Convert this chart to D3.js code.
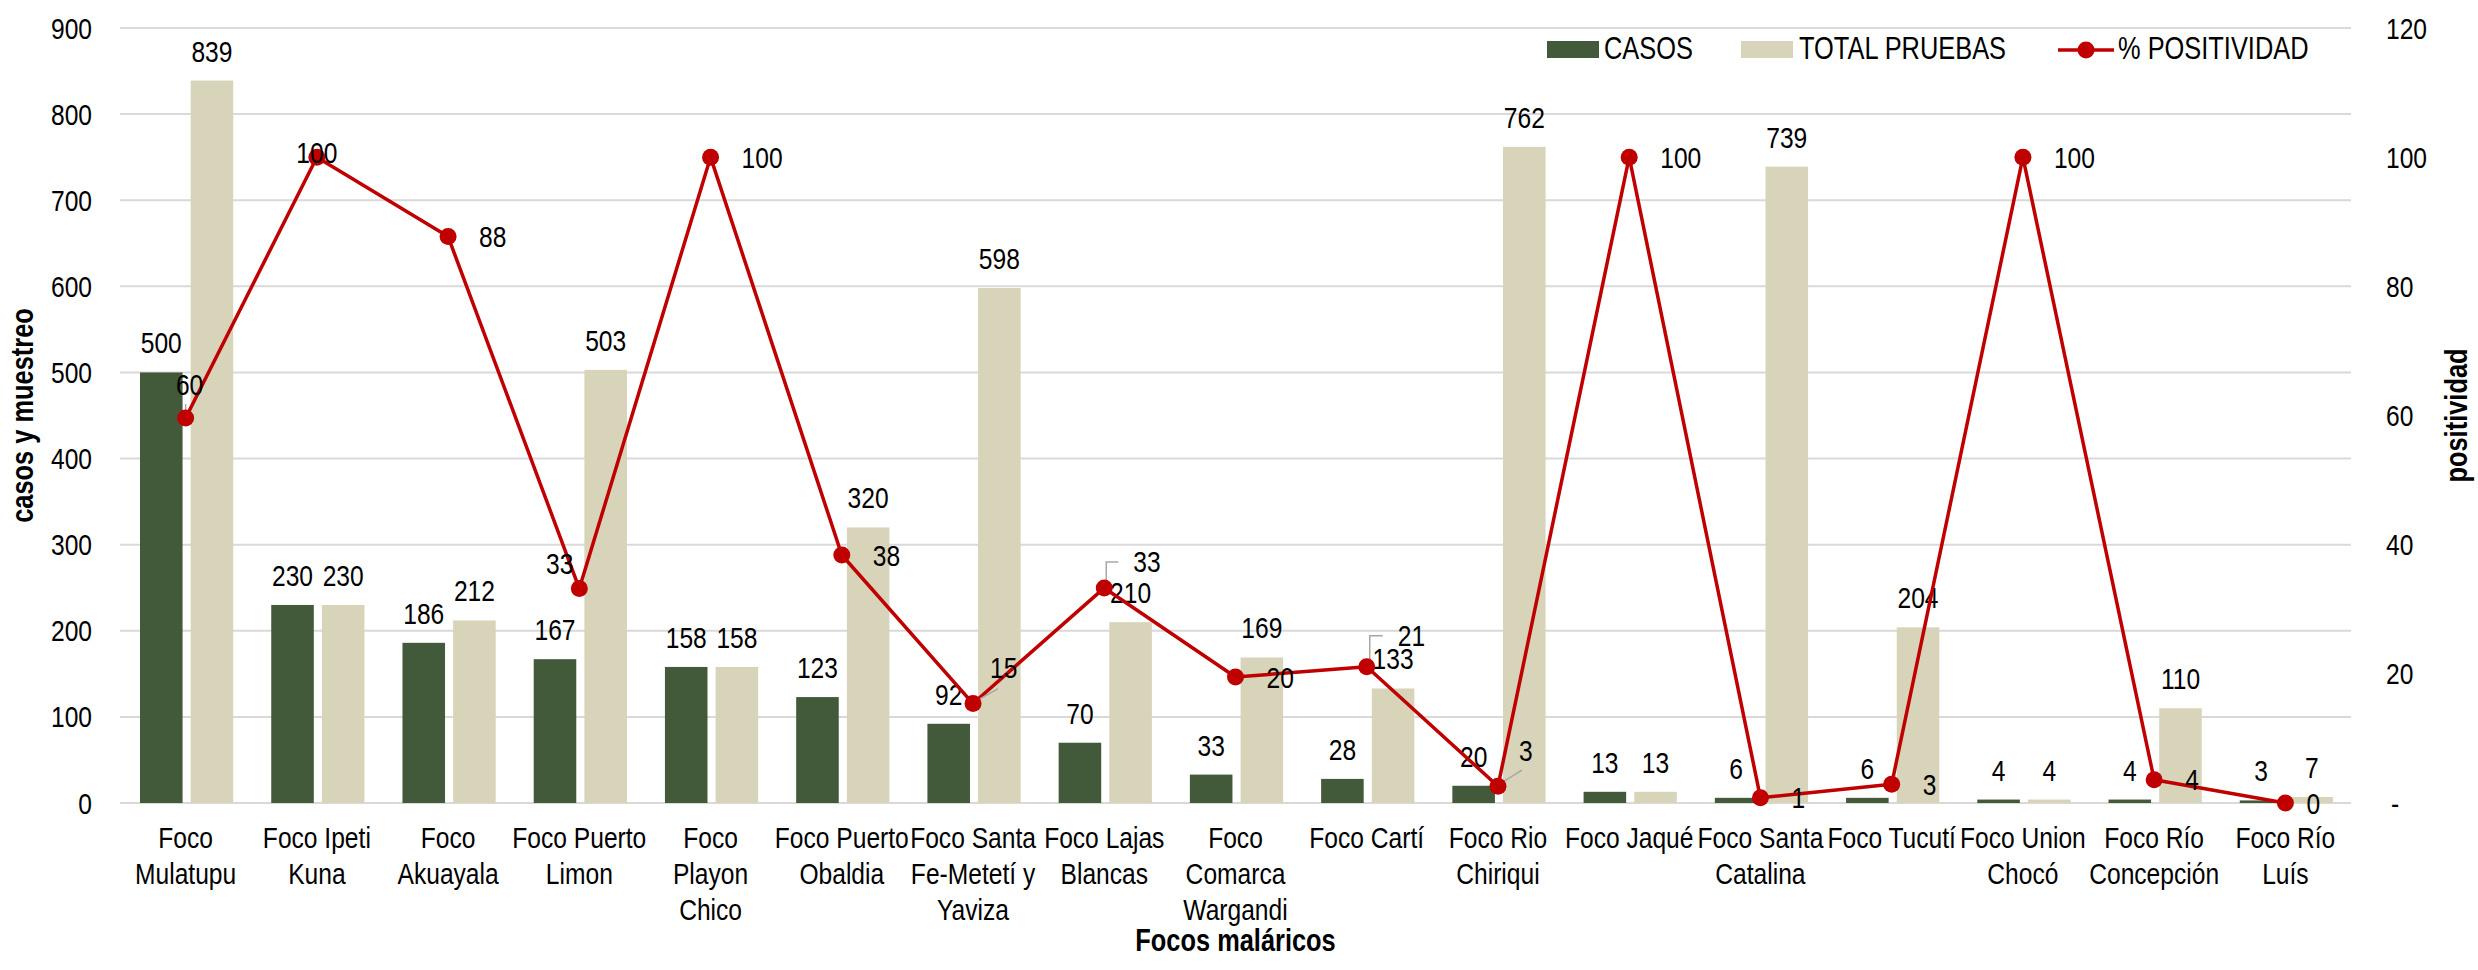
<!DOCTYPE html>
<html lang="es">
<head>
<meta charset="utf-8">
<title>Focos maláricos</title>
<script src="https://cdn.jsdelivr.net/npm/d3@7"></script>
<style>
  html, body { margin: 0; padding: 0; background: #fff; }
  svg { display: block; }
</style>
</head>
<body>
<script>
// data
var categories = ["Foco Mulatupu", "Foco Ipeti Kuna", "Foco Akuayala", "Foco Puerto Limon",
  "Foco Playon Chico", "Foco Puerto Obaldia", "Foco Santa Fe-Metetí y Yaviza", "Foco Lajas Blancas",
  "Foco Comarca Wargandi", "Foco Cartí", "Foco Rio Chiriqui", "Foco Jaqué", "Foco Santa Catalina",
  "Foco Tucutí", "Foco Union Chocó", "Foco Río Concepción", "Foco Río Luís"];

var tickLines = [["Foco", "Mulatupu"], ["Foco Ipeti", "Kuna"], ["Foco", "Akuayala"], ["Foco Puerto", "Limon"],
  ["Foco", "Playon", "Chico"], ["Foco Puerto", "Obaldia"], ["Foco Santa", "Fe-Metetí y", "Yaviza"],
  ["Foco Lajas", "Blancas"], ["Foco", "Comarca", "Wargandi"], ["Foco Cartí"], ["Foco Rio", "Chiriqui"],
  ["Foco Jaqué"], ["Foco Santa", "Catalina"], ["Foco Tucutí"], ["Foco Union", "Chocó"],
  ["Foco Río", "Concepción"], ["Foco Río", "Luís"]];

var casos = [500, 230, 186, 167, 158, 123, 92, 70, 33, 28, 20, 13, 6, 6, 4, 4, 3];
var pruebas = [839, 230, 212, 503, 158, 320, 598, 210, 169, 133, 762, 13, 739, 204, 4, 110, 7];
var positividad = [59.6, 100, 87.7, 33.2, 100, 38.4, 15.4, 33.3, 19.5, 21.1, 2.6, 100, 0.8, 2.9, 100, 3.6, 0];

var leftTicks = [0, 100, 200, 300, 400, 500, 600, 700, 800, 900];
var rightTicks = [0, 20, 40, 60, 80, 100, 120];

var w = 2478, h = 970;
var plot = {left: 120, right: 2351, top: 28, bottom: 803};

var cCasos = "#425a3a", cPruebas = "#d8d4ba", cLine = "#c00000", cGrid = "#d9d9d9";

var svg = d3.select("body").append("svg")
  .attr("width", w).attr("height", h);

// narrow font if installed, otherwise squeeze the regular one
function measure(fam) {
  var t = svg.append("text").attr("font-family", fam).attr("font-size", 30).text("Mulatupu");
  var len = t.node().getComputedTextLength();
  t.remove();
  return len;
}
var narrowOk = measure("'Liberation Sans Narrow'") < measure("'Liberation Sans'") * 0.9;
var sx = narrowOk ? 1 : 0.82;
var FONT = narrowOk ? "'Liberation Sans Narrow', 'Arial Narrow', sans-serif" : "'Liberation Sans', Arial, sans-serif";

function txt(g, x, y, s, anchor, size, bold, rot) {
  return g.append("text")
    .attr("transform", "translate(" + x + "," + y + ")" + (rot ? " rotate(" + rot + ")" : "") + " scale(" + sx + ",1)")
    .attr("text-anchor", anchor)
    .attr("font-family", FONT)
    .attr("font-size", size)
    .attr("font-weight", bold ? "bold" : "normal")
    .attr("fill", "#000")
    .text(s);
}

// scales
var x0 = d3.scaleBand().domain(categories).range([plot.left, plot.right]).padding(0);
var bw = x0.bandwidth();
var x1 = d3.scaleBand().domain(["casos", "pruebas"]).range([20, bw - 18]).paddingInner(0.16);
var y0 = d3.scaleLinear().domain([0, 900]).range([plot.bottom, plot.top]);
var y1 = d3.scaleLinear().domain([0, 120]).range([plot.bottom, plot.top]);

var FS = 30;

// gridlines
svg.append("g").selectAll("line").data(leftTicks).enter().append("line")
  .attr("x1", plot.left).attr("x2", plot.right)
  .attr("y1", function(d) { return y0(d); })
  .attr("y2", function(d) { return y0(d); })
  .attr("stroke", cGrid).attr("stroke-width", 2);

// left tick labels
var gl = svg.append("g");
leftTicks.forEach(function(d) {
  txt(gl, 92, y0(d) + 10.5, d3.format("d")(d), "end", FS);
});

// right tick labels
var gr = svg.append("g");
rightTicks.forEach(function(d) {
  txt(gr, d === 0 ? 2391 : 2386, y1(d) + 10.5, d === 0 ? "-" : d3.format("d")(d), "start", FS);
});

// bars
var rows = categories.map(function(c, i) {
  return {cat: c, casos: casos[i], pruebas: pruebas[i], pos: positividad[i], i: i};
});

var groups = svg.append("g").selectAll("g").data(rows).enter().append("g")
  .attr("transform", function(d) { return "translate(" + x0(d.cat) + ",0)"; });

groups.append("rect")
  .attr("x", x1("casos")).attr("width", x1.bandwidth())
  .attr("y", function(d) { return y0(d.casos); })
  .attr("height", function(d) { return plot.bottom - y0(d.casos); })
  .attr("fill", cCasos);

groups.append("rect")
  .attr("x", x1("pruebas")).attr("width", x1.bandwidth())
  .attr("y", function(d) { return y0(d.pruebas); })
  .attr("height", function(d) { return plot.bottom - y0(d.pruebas); })
  .attr("fill", cPruebas);

// bar labels
var gbl = svg.append("g");
rows.forEach(function(d) {
  txt(gbl, x0(d.cat) + x1("casos") + x1.bandwidth() / 2, y0(d.casos) - 19, d.casos, "middle", FS);
  txt(gbl, x0(d.cat) + x1("pruebas") + x1.bandwidth() / 2, y0(d.pruebas) - 19, d.pruebas, "middle", FS);
});

// positivity line
var cx = function(d) { return x0(d.cat) + bw / 2; };
var cy = function(d) { return y1(d.pos); };

svg.append("path").datum(rows)
  .attr("d", d3.line().x(cx).y(cy))
  .attr("fill", "none").attr("stroke", cLine).attr("stroke-width", 3.5)
  .attr("stroke-linejoin", "round");

// leader lines for moved labels
var leaders = {
  0: [[0, -6], [0, -14]],
  6: [[2, -2], [25, -15]],
  7: [[2, -5], [2, -26], [14, -26]],
  9: [[3, -3], [3, -31], [16, -31]],
  10: [[3, -3], [24, -16]]
};
var gld = svg.append("g");
rows.forEach(function(d) {
  var l = leaders[d.i];
  if (!l) return;
  gld.append("path")
    .attr("d", d3.line()(l.map(function(p) { return [cx(d) + p[0], cy(d) + p[1]]; })))
    .attr("fill", "none").attr("stroke", "#a6a6a6").attr("stroke-width", 1.5);
});

svg.append("g").selectAll("circle").data(rows).enter().append("circle")
  .attr("cx", cx).attr("cy", cy).attr("r", 8.5).attr("fill", cLine);

// positivity labels: default to the right, a few nudged like the original
var nudge = {
  0: {dx: 4, dy: -34, a: "middle"},
  1: {dx: 0, dy: -5, a: "middle"},
  3: {dx: -6, dy: -25, a: "end"},
  6: {dx: 17, dy: -36, a: "start"},
  7: {dx: 29, dy: -26, a: "start"},
  9: {dx: 31, dy: -31, a: "start"},
  10: {dx: 21, dy: -36, a: "start"},
  16: {dx: 21, dy: 0, a: "start"}
};
var gpl = svg.append("g");
rows.forEach(function(d) {
  var n = nudge[d.i] || {dx: 31, dy: 0, a: "start"};
  txt(gpl, cx(d) + n.dx, cy(d) + n.dy + 10.5, d3.format(".0f")(d.pos), n.a, FS);
});

// category labels
var gc = svg.append("g");
rows.forEach(function(d) {
  tickLines[d.i].forEach(function(s, k) {
    txt(gc, x0(d.cat) + bw / 2, 848 + k * 36, s, "middle", FS);
  });
});

// axis titles
txt(svg, (plot.left + plot.right) / 2, 951, "Focos maláricos", "middle", 31, true);
txt(svg, 33, (plot.top + plot.bottom) / 2, "casos y muestreo", "middle", 31, true, -90);
txt(svg, 2467, (plot.top + plot.bottom) / 2, "positividad", "middle", 31, true, -90);

// legend
var lg = svg.append("g");
lg.append("rect").attr("x", 1547).attr("y", 41).attr("width", 52).attr("height", 17).attr("fill", cCasos);
txt(lg, 1604, 59, "CASOS", "start", 31);
lg.append("rect").attr("x", 1741).attr("y", 41).attr("width", 52).attr("height", 17).attr("fill", cPruebas);
txt(lg, 1799, 59, "TOTAL PRUEBAS", "start", 31);
lg.append("line").attr("x1", 2058).attr("x2", 2114).attr("y1", 50).attr("y2", 50)
  .attr("stroke", cLine).attr("stroke-width", 3.5);
lg.append("circle").attr("cx", 2086).attr("cy", 50).attr("r", 8.5).attr("fill", cLine);
txt(lg, 2118, 59, "% POSITIVIDAD", "start", 31);
</script>
</body>
</html>
